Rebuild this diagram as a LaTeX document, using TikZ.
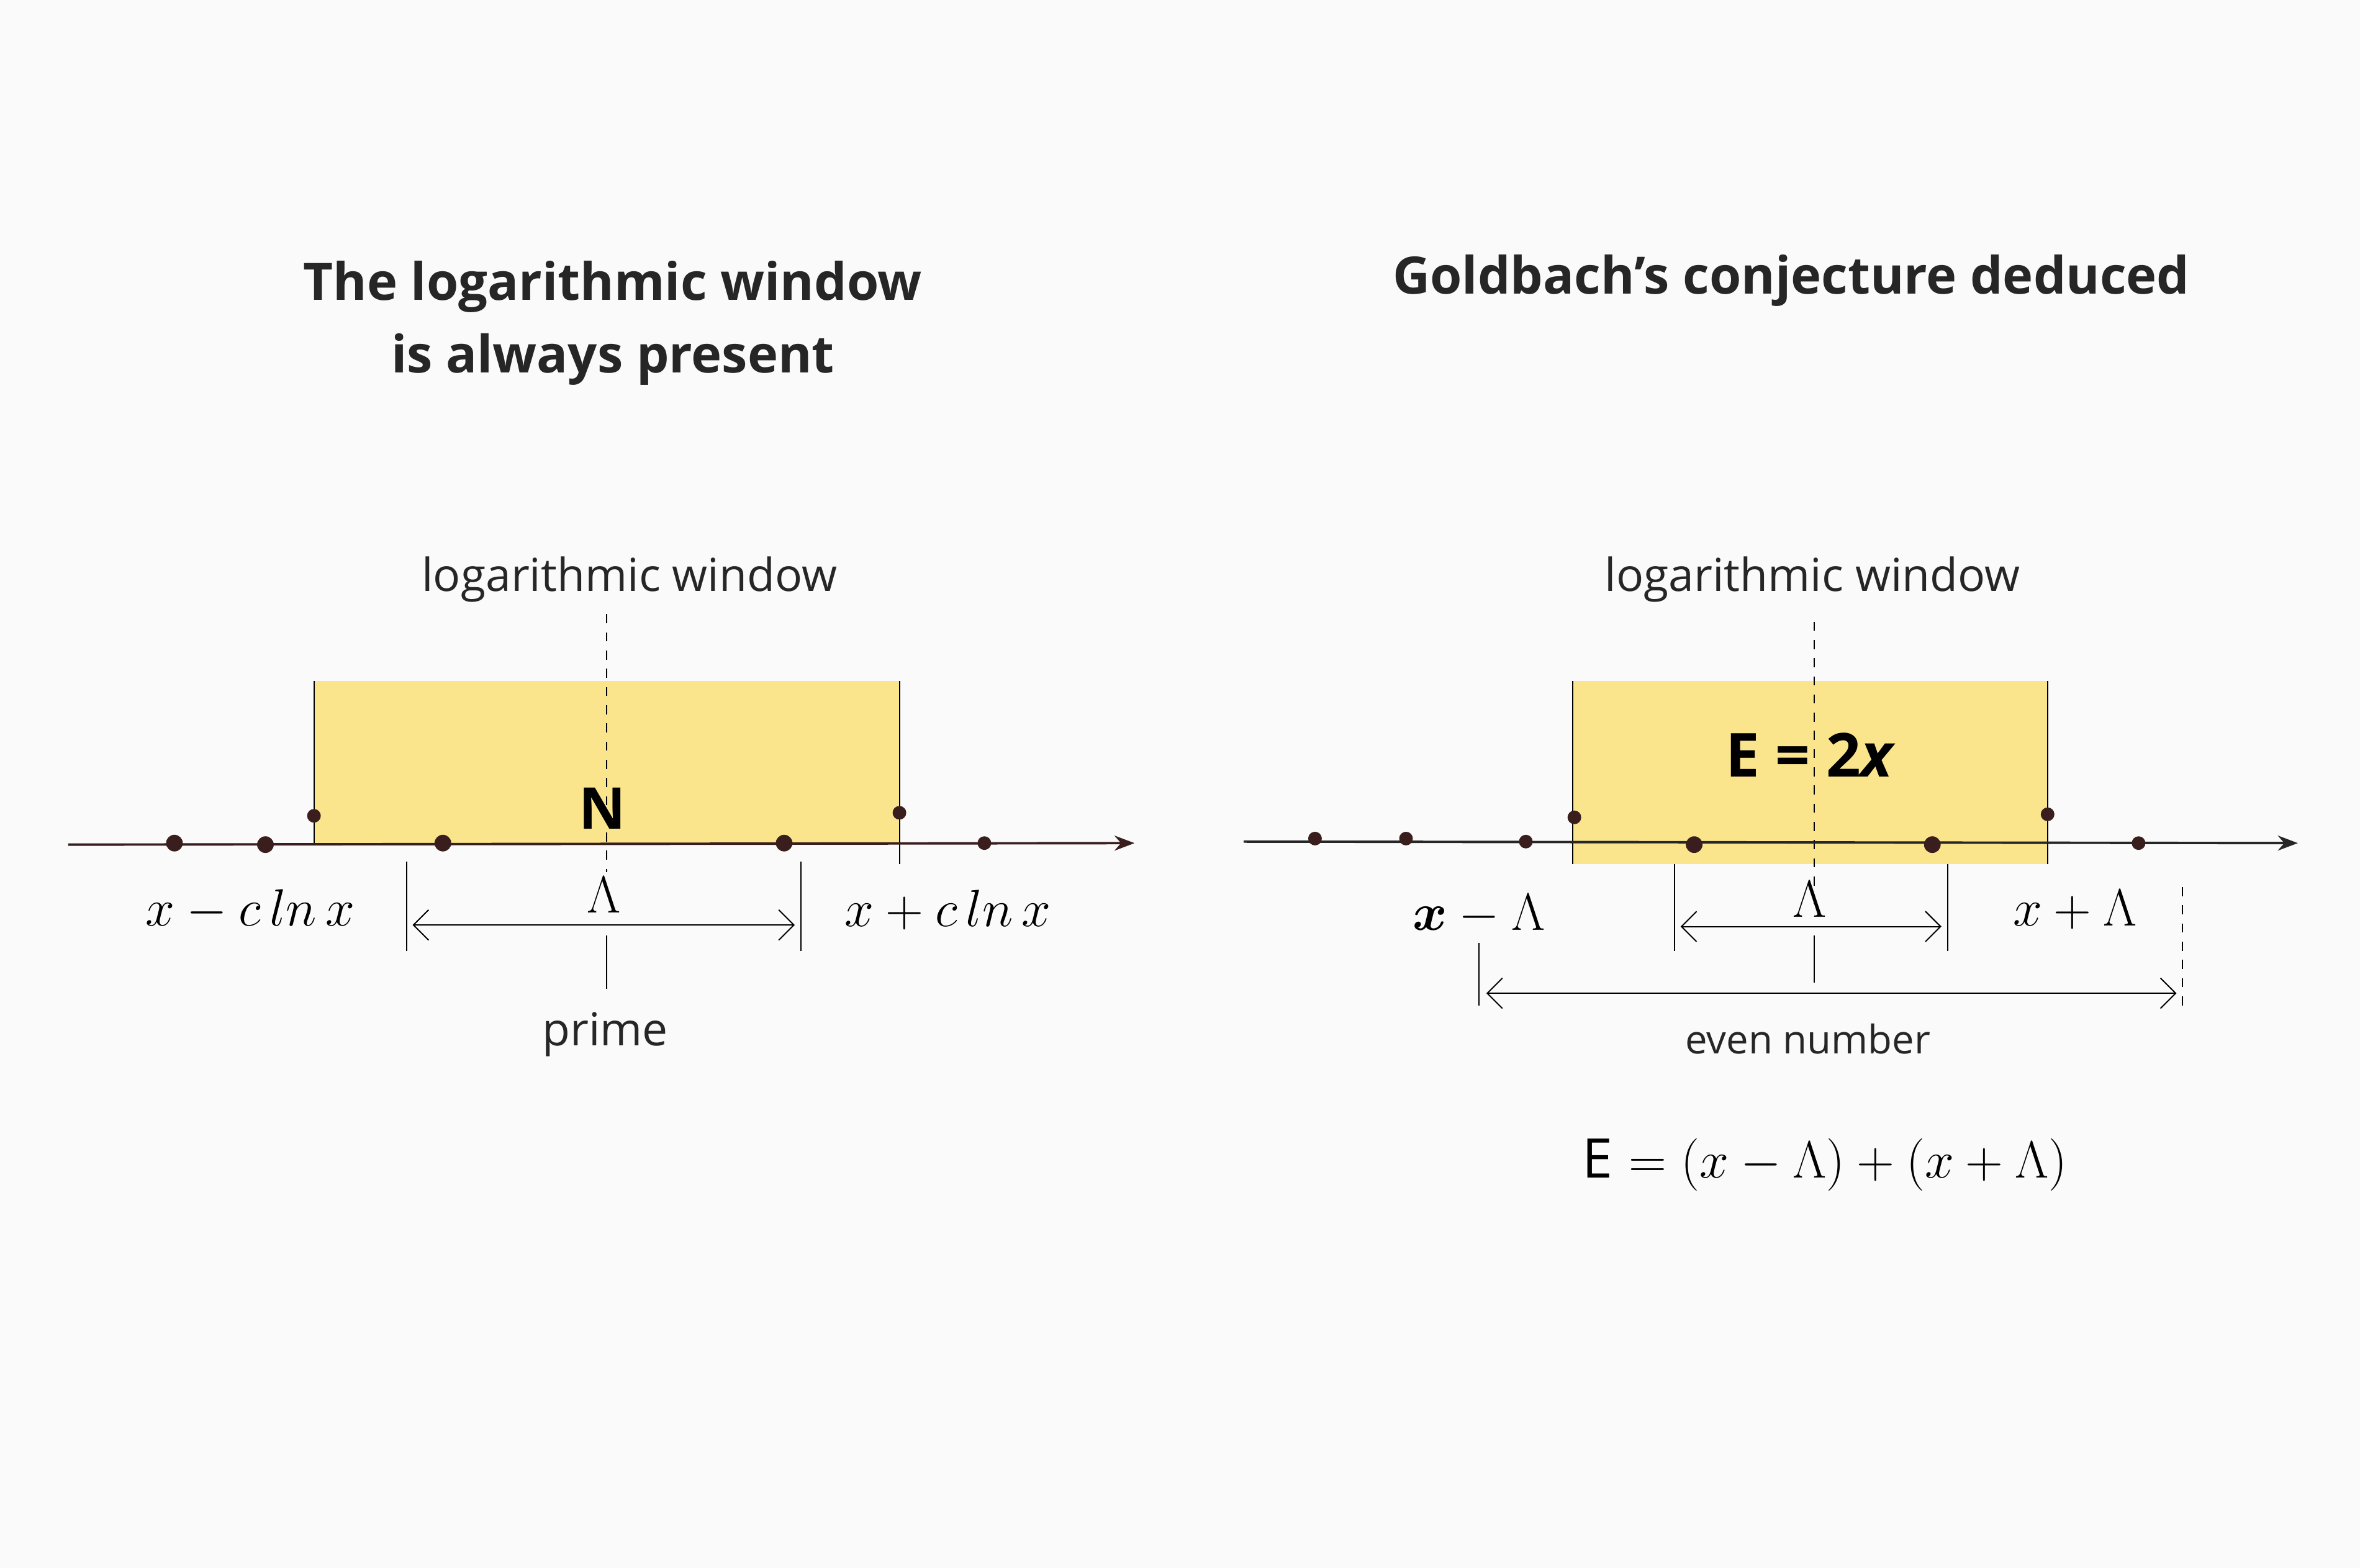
\documentclass[tikz,border=0pt]{standalone}
\usepackage{amsmath}
\usepackage{bm}
\usepackage{fontspec}
\setsansfont{Open Sans}
\usetikzlibrary{positioning, arrows.meta}
\definecolor{winyellow}{HTML}{FBE58C}
\definecolor{dotbrown}{HTML}{3A1E1E}
\begin{document}
\begin{tikzpicture}[
	x=0.5pt, y=-0.5pt,
	dot/.style={circle, fill=dotbrown, inner sep=0pt, minimum size=5.5pt},
	smalldot/.style={circle, fill=dotbrown, inner sep=0pt, minimum size=4.5pt},
	titlet/.style={font=\sffamily\bfseries\fontsize{17}{24}\selectfont, align=center, text=black!85},
	labelt/.style={font=\sffamily\fontsize{15}{18}\selectfont, text=black!85},
	mathl/.style={font=\fontsize{16}{18}\selectfont},
	dim/.style={<->, >={Straight Barb[length=5pt]}, thin},
	>=Stealth
]
\useasboundingbox[fill=black!2] (0,0) rectangle (1556,1034);

% left panel
\node[titlet] (lefttitle) at (404,213) {The logarithmic window\\is always present};
\node[labelt] (leftwin) at (415,382) {logarithmic window};
\fill[winyellow] (207,449) rectangle (593,556);
\draw[thin] (207,449) -- (207,556) (593,449) -- (593,570);
\draw[thin, dashed] (400,405) -- (400,575);
\draw[thin] (400,617) -- (400,652);
\node[font=\sffamily\bfseries\fontsize{19}{20}\selectfont] (leftN) at (397,533) {N};
\coordinate (laxs) at (45,557);
\coordinate (laxe) at (748,556);
\draw[->, thick, dotbrown] (laxs) -- (laxe);
\foreach \px/\py/\s in {115/556/dot, 175/557/dot, 207/538/smalldot, 292/556/dot, 517/556/dot, 593/536/smalldot, 649/556/smalldot}
	\node[\s] at (\px,\py) {};
\draw[thin] (268,568) -- (268,627) (528,568) -- (528,627);
\coordinate (lda) at (272,610);
\coordinate (ldb) at (524,610);
\draw[dim] (lda) -- (ldb);
\node[mathl] (llam) at (398,590) {$\Lambda$};
\node[mathl] (lminus) at (165,600) {$x - c\,ln\,x$};
\node[mathl] (lplus) at (625,600) {$x + c\,ln\,x$};
\node[labelt] (lprime) at (399,682) {prime};

% right panel
\node[titlet] (righttitle) at (1181,185) {Goldbach's conjecture deduced};
\node[labelt] (rightwin) at (1195,382) {logarithmic window};
\fill[winyellow] (1037,449) rectangle (1350,570);
\draw[thin] (1037,449) -- (1037,570) (1350,449) -- (1350,570);
\draw[thin, dashed] (1196,410) -- (1196,600);
\draw[thin] (1196,617) -- (1196,648);
\node[font=\sffamily\bfseries\fontsize{20}{22}\selectfont] (rightE) at (1193,498) {E = 2\itshape x};
\coordinate (raxs) at (820,555);
\coordinate (raxe) at (1515,556);
\draw[->, thick, black!85] (raxs) -- (raxe);
\foreach \px/\py/\s in {867/553/smalldot, 927/553/smalldot, 1006/555/smalldot, 1038/539/smalldot, 1350/537/smalldot, 1117/557/dot, 1274/557/dot, 1410/556/smalldot}
	\node[\s] at (\px,\py) {};
\draw[thin] (1104,570) -- (1104,627) (1284,570) -- (1284,627);
\coordinate (rda) at (1108,611);
\coordinate (rdb) at (1280,611);
\draw[dim] (rda) -- (rdb);
\node[mathl] (rlam) at (1193,593) {$\Lambda$};
\node[mathl, font=\fontsize{18}{20}\selectfont] (rminus) at (975,603) {$\bm{x} - \Lambda$};
\node[mathl] (rplus) at (1368,600) {$x + \Lambda$};
\draw[thin] (975,622) -- (975,663);
\draw[thin, dashed] (1439,585) -- (1439,667);
\coordinate (rea) at (980,655);
\coordinate (reb) at (1435,655);
\draw[dim] (rea) -- (reb);
\node[labelt, font=\sffamily\fontsize{13}{16}\selectfont] (reven) at (1192,685) {even number};
\node[font=\fontsize{18}{20}\selectfont] (rsum) at (1203,768) {\textsf{E} $= (x - \Lambda) + (x + \Lambda)$};
\end{tikzpicture}
\end{document}
